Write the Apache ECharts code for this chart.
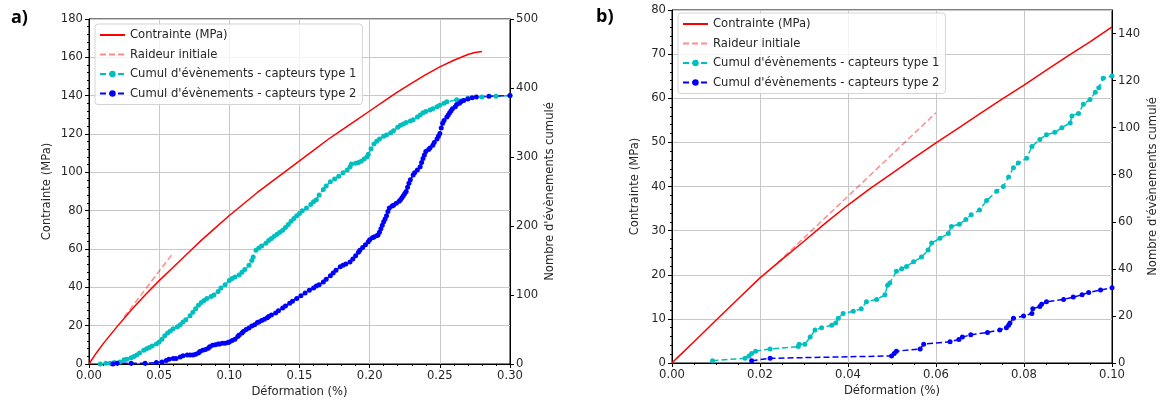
<!DOCTYPE html>
<html>
<head>
<meta charset="utf-8">
<script src="https://cdn.jsdelivr.net/npm/echarts@6/dist/echarts.min.js"></script>
<style>
  html, body { margin: 0; padding: 0; background: #fff; }
  #chart { width: 1161px; height: 406px; }
</style>
</head>
<body>
<div id="chart"></div>
<script>
// a) -- [déformation %, valeur]
const stressA = [[0,0],[0.005,5.5],[0.01,10.5],[0.02,19.5],[0.03,28],[0.04,36],[0.05,43.5],[0.06,50.5],[0.07,57.5],[0.08,64.5],[0.09,71],[0.1,77.5],[0.11,83.5],[0.12,89.5],[0.13,95],[0.14,100.5],[0.15,106],[0.16,111.5],[0.17,117],[0.18,122],[0.19,127],[0.2,132],[0.21,137],[0.22,142],[0.23,146.5],[0.24,151],[0.25,155],[0.26,158.5],[0.27,161.5],[0.275,162.5],[0.28,163]]
const raideurA = [[0.025,24.5],[0.06,58]]
const capteur1A = [[0.008,0],[0.012,1],[0.015,1],[0.018,2],[0.022,3],[0.025,6],[0.027,7],[0.03,9],[0.032,11],[0.034,13],[0.036,16],[0.039,20],[0.041,22],[0.043,24],[0.045,26],[0.048,29],[0.05,32],[0.052,36],[0.054,41],[0.056,45],[0.058,48],[0.06,51],[0.063,54],[0.065,57],[0.067,61],[0.069,64],[0.072,70],[0.074,75],[0.076,80],[0.078,85],[0.08,89],[0.082,92],[0.084,95],[0.087,98],[0.089,100],[0.092,105],[0.094,110],[0.097,115],[0.1,121],[0.102,124],[0.104,126],[0.107,129],[0.109,133],[0.111,137],[0.114,143],[0.116,150],[0.117,155],[0.119,165],[0.121,168],[0.123,171],[0.126,175],[0.128,179],[0.13,182],[0.132,185],[0.134,188],[0.136,191],[0.138,194],[0.14,198],[0.142,202],[0.144,207],[0.146,211],[0.148,215],[0.15,218],[0.152,222],[0.155,226],[0.158,231],[0.16,235],[0.162,238],[0.164,245],[0.167,253],[0.169,258],[0.172,264],[0.175,268],[0.178,272],[0.181,277],[0.184,281],[0.186,286],[0.187,290],[0.19,291],[0.192,292],[0.194,294],[0.196,297],[0.198,300],[0.199,304],[0.201,312],[0.203,319],[0.205,323],[0.207,326],[0.21,330],[0.212,332],[0.215,335],[0.217,338],[0.22,343],[0.222,346],[0.224,348],[0.226,350],[0.229,352],[0.231,354],[0.234,358],[0.236,361],[0.238,364],[0.24,366],[0.243,368],[0.245,370],[0.248,373],[0.25,375],[0.253,378],[0.255,380],[0.262,383],[0.27,385],[0.28,387],[0.29,388],[0.3,389]]
const capteur2A = [[0.017,0],[0.02,1],[0.03,1],[0.04,1],[0.048,2],[0.052,3],[0.055,5],[0.057,7],[0.06,8],[0.062,8],[0.065,10],[0.067,12],[0.07,13],[0.072,13],[0.074,13],[0.076,14],[0.078,16],[0.079,18],[0.081,20],[0.083,21],[0.085,23],[0.086,25],[0.088,27],[0.09,28],[0.092,29],[0.093,29],[0.095,30],[0.097,30],[0.099,31],[0.1,32],[0.102,34],[0.104,36],[0.106,40],[0.107,42],[0.109,45],[0.11,47],[0.112,50],[0.114,52],[0.116,55],[0.118,57],[0.12,60],[0.121,61],[0.123,63],[0.125,65],[0.127,67],[0.128,69],[0.13,71],[0.133,74],[0.135,77],[0.138,81],[0.14,84],[0.143,88],[0.145,91],[0.148,95],[0.151,99],[0.154,103],[0.157,107],[0.16,110],[0.162,113],[0.164,115],[0.167,119],[0.169,123],[0.172,128],[0.174,132],[0.176,136],[0.179,141],[0.181,143],[0.183,145],[0.186,148],[0.188,152],[0.19,157],[0.192,162],[0.193,165],[0.195,169],[0.197,173],[0.199,177],[0.2,180],[0.202,183],[0.203,184],[0.205,186],[0.206,187],[0.207,191],[0.208,196],[0.209,201],[0.21,206],[0.211,210],[0.212,215],[0.213,221],[0.214,226],[0.216,229],[0.217,230],[0.219,233],[0.221,236],[0.222,238],[0.223,241],[0.224,244],[0.225,247],[0.226,250],[0.227,256],[0.228,262],[0.229,267],[0.231,274],[0.232,277],[0.234,281],[0.236,286],[0.237,292],[0.238,298],[0.239,303],[0.24,308],[0.242,311],[0.243,313],[0.245,317],[0.246,321],[0.248,326],[0.249,330],[0.25,334],[0.251,342],[0.252,349],[0.253,353],[0.255,358],[0.256,361],[0.257,364],[0.258,367],[0.259,370],[0.261,373],[0.262,376],[0.264,378],[0.265,380],[0.267,382],[0.27,384],[0.273,386],[0.276,387],[0.285,388],[0.3,389]]

// b)
const stressB = [[0,0],[0.001,1],[0.005,4.8],[0.01,9.7],[0.015,14.5],[0.02,19.3],[0.025,23.5],[0.03,27.6],[0.035,31.8],[0.04,35.8],[0.045,39.5],[0.05,43],[0.055,46.5],[0.06,49.9],[0.065,53.2],[0.07,56.5],[0.075,59.8],[0.08,63],[0.085,66.3],[0.09,69.6],[0.095,72.8],[0.1,76.2]]
const raideurB = [[0.024,22.7],[0.06,56.7]]
const capteur1B = [[0.0092,1],[0.0166,2],[0.0175,3],[0.0181,4],[0.019,5],[0.0223,6],[0.0287,7],[0.0289,8],[0.0302,8],[0.0314,11],[0.0325,14],[0.034,15],[0.0363,16],[0.0372,17],[0.0378,19],[0.0389,21],[0.0412,22],[0.043,23],[0.0442,26],[0.0465,27],[0.0484,29],[0.049,33],[0.0495,34],[0.051,39],[0.0522,40],[0.0533,41],[0.0549,43],[0.0567,45],[0.0582,48],[0.059,51],[0.0609,53],[0.0628,55],[0.0635,58],[0.0653,59],[0.0668,61],[0.068,63],[0.0699,65],[0.0715,69],[0.0738,73],[0.0753,75],[0.0765,79],[0.0776,83],[0.0787,85],[0.0806,87],[0.0818,92],[0.0836,95],[0.0851,97],[0.087,98],[0.0886,100],[0.0905,102],[0.0909,105],[0.0924,106],[0.0935,110],[0.095,112],[0.0962,115],[0.097,117],[0.098,121],[0.1,122]]
const capteur2B = [[0.0181,1],[0.0223,2],[0.0499,3],[0.0505,4],[0.051,5],[0.0564,6],[0.0572,8],[0.0632,9],[0.0652,10],[0.066,11],[0.0679,12],[0.0717,13],[0.0745,14],[0.076,15],[0.0765,16],[0.0768,17],[0.0776,19],[0.0799,20],[0.0818,21],[0.082,23],[0.0836,24],[0.084,25],[0.0851,26],[0.089,27],[0.0912,28],[0.0932,29],[0.0947,30],[0.0974,31],[0.1,32]]

const legendNames = ['Contrainte (MPa)', 'Raideur initiale', "Cumul d'évènements - capteurs type 1", "Cumul d'évènements - capteurs type 2"]

const FONT = 'DejaVu Sans'
const FS = 11.6
const txt = '#262626'

function xAx(gridIndex, max, interval, digits, minorSplit) {
  return {
    type: 'value', gridIndex, min: 0, max, interval,
    name: 'Déformation (%)', nameLocation: 'middle', nameGap: 22, nameMoveOverlap: false,
    nameTextStyle: { fontFamily: FONT, fontSize: FS, color: txt },
    axisLine: { lineStyle: { color: '#000', width: 1 } },
    axisTick: { length: 4, lineStyle: { color: '#000' } },
    minorTick: { show: true, splitNumber: minorSplit, length: 2, lineStyle: { color: '#000' } },
    axisLabel: { fontFamily: FONT, fontSize: FS, color: txt, margin: 6, formatter: (v) => v.toFixed(digits) },
    splitLine: { show: true, lineStyle: { color: '#c8c8c8', width: 1 } }
  }
}
function yLeft(gridIndex, max, interval, minorSplit, gap) {
  return {
    type: 'value', gridIndex, position: 'left', min: 0, max, interval,
    name: 'Contrainte (MPa)', nameLocation: 'middle', nameGap: gap, nameMoveOverlap: false,
    nameTextStyle: { fontFamily: FONT, fontSize: FS, color: txt },
    axisLine: { show: true, lineStyle: { color: '#000', width: 1 } },
    axisTick: { show: true, length: 4, lineStyle: { color: '#000' } },
    minorTick: { show: true, splitNumber: minorSplit, length: 2, lineStyle: { color: '#000' } },
    axisLabel: { fontFamily: FONT, fontSize: FS, color: txt, margin: 6 },
    splitLine: { show: true, lineStyle: { color: '#c8c8c8', width: 1 } }
  }
}
function yRight(gridIndex, max, interval, gap) {
  return {
    type: 'value', gridIndex, position: 'right', min: 0, max, interval,
    name: "Nombre d'évènements cumulé", nameLocation: 'middle', nameGap: gap, nameMoveOverlap: false,
    nameTextStyle: { fontFamily: FONT, fontSize: FS, color: txt },
    axisLine: { show: true, lineStyle: { color: '#000', width: 1 } },
    axisTick: { show: true, length: 4, lineStyle: { color: '#000' } },
    axisLabel: { fontFamily: FONT, fontSize: FS, color: txt, margin: 6, showMaxLabel: max % interval === 0 },
    splitLine: { show: false }
  }
}
function legendAt(left, top) {
  return {
    left, top, orient: 'vertical', itemWidth: 25, itemHeight: 8, itemGap: 7.5,
    padding: [5, 6, 5, 4],
    backgroundColor: 'rgba(255,255,255,0.8)', borderColor: '#d4d4d4', borderWidth: 1, borderRadius: 3,
    textStyle: { fontFamily: FONT, fontSize: FS, color: txt },
    data: [
      { name: legendNames[0], itemStyle: { opacity: 0 } },
      { name: legendNames[1], itemStyle: { opacity: 0 } },
      legendNames[2],
      legendNames[3]
    ]
  }
}
function stressSeries(name, data, xi, yi) {
  return { name, type: 'line', data, xAxisIndex: xi, yAxisIndex: yi, symbol: 'none', smooth: false,
    lineStyle: { color: '#ff0000', width: 1.5 }, itemStyle: { color: '#ff0000' } }
}
function raideurSeries(data, xi, yi) {
  return { name: legendNames[1], type: 'line', data, xAxisIndex: xi, yAxisIndex: yi, symbol: 'none',
    lineStyle: { color: 'rgba(255,0,0,0.45)', width: 1.5, type: [6, 3] }, itemStyle: { color: 'rgba(255,0,0,0.45)' } }
}
function eventSeries(name, data, xi, yi, color) {
  return { name, type: 'line', data, xAxisIndex: xi, yAxisIndex: yi, symbol: 'circle', symbolSize: 5, showAllSymbol: true,
    lineStyle: { color, width: 1.5, type: [6, 3] }, itemStyle: { color } }
}

const option = {
  animation: false,
  backgroundColor: '#fff',
  graphic: [
    { type: 'text', left: 11, top: 9, style: { text: 'a)', font: 'bold 18px "Open Sans"', fill: '#000' } },
    { type: 'text', left: 596, top: 8, style: { text: 'b)', font: 'bold 18px "Open Sans"', fill: '#000' } }
  ],
  legend: [legendAt(95, 24), legendAt(678, 13)],
  grid: [
    { left: 89, top: 19, width: 421, height: 345, show: true, borderColor: '#000', borderWidth: 1 },
    { left: 672, top: 10, width: 440, height: 353, show: true, borderColor: '#000', borderWidth: 1 }
  ],
  xAxis: [xAx(0, 0.3, 0.05, 2, 5), xAx(1, 0.1, 0.02, 2, 4)],
  yAxis: [yLeft(0, 180, 20, 5, 36), yRight(0, 500, 100, 34), yLeft(1, 80, 10, 5, 31), yRight(1, 150, 20, 35)],
  series: [
    stressSeries(legendNames[0], stressA, 0, 0),
    raideurSeries(raideurA, 0, 0),
    eventSeries(legendNames[2], capteur1A, 0, 1, '#00bfbf'),
    eventSeries(legendNames[3], capteur2A, 0, 1, '#0000ff'),
    stressSeries(legendNames[0], stressB, 1, 2),
    raideurSeries(raideurB, 1, 2),
    eventSeries(legendNames[2], capteur1B, 1, 3, '#00bfbf'),
    eventSeries(legendNames[3], capteur2B, 1, 3, '#0000ff')
  ]
}

const myChart = echarts.init(document.getElementById('chart'))
myChart.setOption(option)
</script>
</body>
</html>
